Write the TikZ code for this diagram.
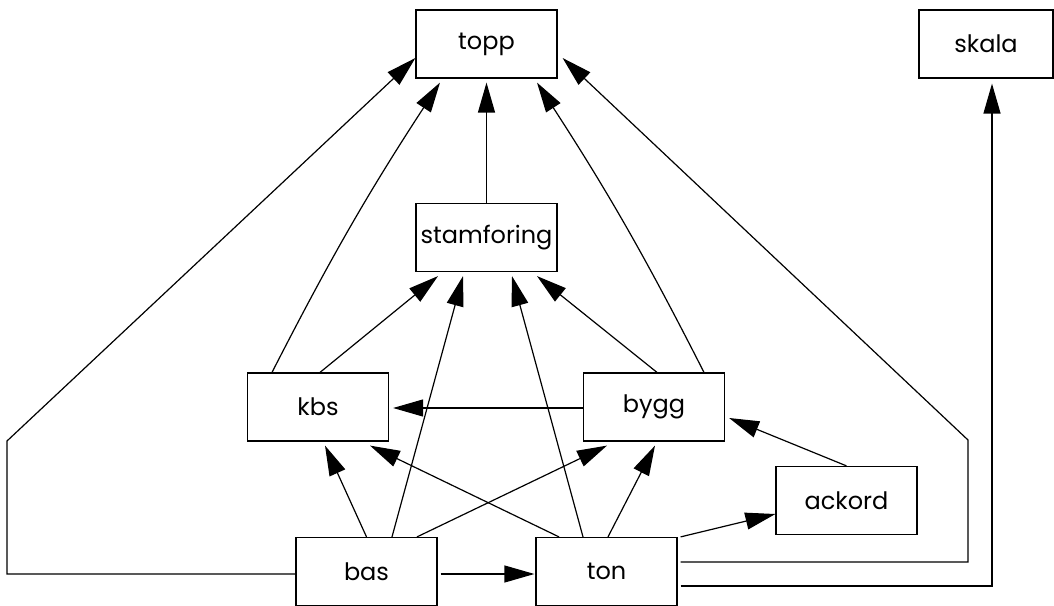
\documentclass[tikz,border=0pt]{standalone}
\usepackage{fontspec}
\setmainfont{Poppins}
\usetikzlibrary{arrows.meta,calc}
\begin{document}
\begin{tikzpicture}[x=0.75pt,y=-0.75pt,
  box/.style={draw, line width=0.9pt, minimum width=105.75pt, minimum height=51pt, inner sep=0pt, font=\fontsize{18}{20}\selectfont},
  arr/.style={line width=0.9pt, -{Triangle[length=22.5pt,width=12.75pt]}}]
\useasboundingbox (0,0) rectangle (1054,606);
% nodes
\node[box] (topp) at (486.5,44) {topp};
\node[box, minimum width=100.5pt] (skala) at (986,44) {skala};
\node[box] (stamforing) at (486.5,237.5) {stamforing};
\node[box] (kbs) at (318,407) {kbs};
\node[box] (bygg) at (654,407) {bygg};
\node[box] (ackord) at (846.5,500.5) {ackord};
\node[box] (bas) at (366.5,571.5) {bas};
\node[box] (ton) at (606.5,571.5) {ton};
% waypoints
\coordinate (wL1) at (7,574);
\coordinate (wL2) at (7,441);
\coordinate (wR1) at (968,562);
\coordinate (wR2) at (968,440);
\coordinate (wS) at (992,586);
% edges to topp
\draw[arr] ($(bas.west)+(0,2.5)$) -- (wL1) -- (wL2) -- ($(topp.west)+(0,14)$);
\draw[arr] ($(kbs.north)+(-46,0)$) to[bend left=3] ($(topp.south)+(-46.5,4)$);
\draw[arr] (stamforing.north) -- ($(topp.south)+(0,4)$);
\draw[arr] ($(bygg.north)+(50,0)$) to[bend right=3] ($(topp.south)+(50.5,4)$);
\draw[arr] ($(ton.east)+(3,-9.5)$) -- (wR1) -- (wR2) -- ($(topp.east)+(5,14)$);
% edge to skala
\draw[arr] ($(ton.east)+(3,14.5)$) -- (wS) -- ($(skala.south)+(6,5)$);
% edges to stamforing
\draw[arr] ($(kbs.north)+(2,0)$) -- ($(stamforing.south)+(-48.5,4)$);
\draw[arr] ($(bas.north)+(25.5,0)$) -- ($(stamforing.south)+(-23.5,4)$);
\draw[arr] ($(ton.north)+(-23.5,0)$) -- ($(stamforing.south)+(25.5,4)$);
\draw[arr] ($(bygg.north)+(3,0)$) -- ($(stamforing.south)+(50.5,4)$);
% edges to kbs
\draw[arr] ($(bygg.west)+(0,1)$) -- ($(kbs.east)+(4,1)$);
\draw[arr] (bas.north) -- ($(kbs.south)+(7,4)$);
\draw[arr] ($(ton.north)+(-47.5,0)$) -- ($(kbs.south)+(52,4)$);
% edges to bygg
\draw[arr] ($(bas.north)+(50.5,0)$) -- ($(bygg.south)+(-47,4)$);
\draw[arr] ($(ton.north)+(1.5,0)$) -- ($(bygg.south)+(1,4)$);
\draw[arr] (ackord.north) -- ($(bygg.east)+(4,11)$);
% others
\draw[arr] ($(ton.north east)+(3,0)$) -- ($(ackord.west)+(0,13.5)$);
\draw[arr] ($(bas.east)+(3,2.5)$) -- ($(ton.west)+(-1,2.5)$);
\end{tikzpicture}
\end{document}
